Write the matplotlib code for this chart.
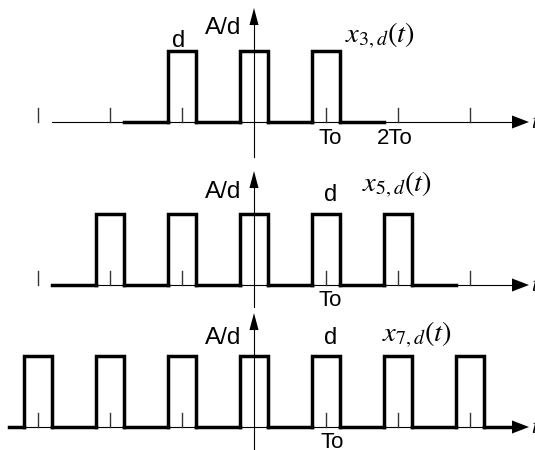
import numpy as np
import matplotlib
matplotlib.use("Agg")
import matplotlib.pyplot as plt

plt.rcParams['mathtext.fontset'] = 'stix'

# pulse trains x_{N,d}(t): t in units of To, amplitude in units of A/d
n_pulses = [3, 5, 7]
duty = 0.40                      # d / To
amp = 1.0                        # A/d
base_extent = [(-1.8, 1.8), (-2.8, 2.8), (-3.4, 3.6)]
axis_start = [-2.8, -2.8, -3.4]
tick_pos = [-3, -2, -1, 1, 2, 3]
labels = [r'$x_{\mathit{3,d}}(t)$', r'$x_{\mathit{5,d}}(t)$', r'$x_{\mathit{7,d}}(t)$']

# layout (pixels)
W, H = 535, 450
x0_px, to_px, amp_px = 254, 72, 71
base_px = [122, 285, 427]
vaxis_low = [-0.49, -0.31, -0.35]

# text placement per panel, pixel coords: A/d, d, label (left, baseline), To
txt_ad = [(223.5, 28.5), (223.5, 192), (223.5, 337.5)]
txt_d = [(179, 41.5), (331, 195), (331, 338)]
txt_lab = [(345, 43), (362, 192), (382, 342)]
txt_to = [(330, 139), (330, 300), (332, 443)]

fig = plt.figure(figsize=(W / 100, H / 100), dpi=100)
sans = 'Liberation Sans'
lw_thick = 2.5

for i, n in enumerate(n_pulses):
    ax = fig.add_axes([0, 0, 1, 1])
    ax.set_xlim(-x0_px / to_px, (W - x0_px) / to_px)
    yb = base_px[i]
    ax.set_ylim(-(H - yb) / amp_px, yb / amp_px)
    ax.axis('off')
    ax.patch.set_alpha(0)

    def tx(px):
        return (px - x0_px) / to_px

    def ty(py):
        return (yb - py) / amp_px

    # thin time axis with arrow
    tip = tx(529)
    head = 17 / to_px
    ax.plot([axis_start[i], tip - head * 0.8], [0, 0], color='black', lw=0.8)
    ax.fill([tip - head, tip, tip - head], [0.092, 0, -0.092], color='black', lw=0)

    # ticks
    for tp in tick_pos:
        ax.plot([tp, tp], [0, 0.2], color='#333333', lw=1.0)

    # vertical axis with arrow
    vtip = ty(base_px[i] - 114)
    ax.plot([0, 0], [vaxis_low[i], vtip - 0.1], color='black', lw=0.8)
    ax.fill([-0.063, 0, 0.063], [vtip - 0.24, vtip, vtip - 0.24], color='black', lw=0)

    # pulse train: thick baseline pieces between pulses, thin axis visible under pulses
    centers = np.arange(n) - (n - 1) / 2
    lefts = centers - duty / 2
    rights = centers + duty / 2
    starts = np.concatenate([[base_extent[i][0]], rights])
    ends = np.concatenate([lefts, [base_extent[i][1]]])
    for s, e in zip(starts, ends):
        ax.plot([s, e], [0, 0], color='black', lw=lw_thick, solid_capstyle='projecting')
    for l, r in zip(lefts, rights):
        ax.plot([l, l, r, r], [0, amp, amp, 0], color='black', lw=lw_thick,
                solid_joinstyle='miter', solid_capstyle='projecting')

    ax.text(tx(txt_ad[i][0]), ty(txt_ad[i][1]), 'A/d', family=sans, fontsize=17.5,
            ha='center', va='center')
    ax.text(tx(txt_d[i][0]), ty(txt_d[i][1]), 'd', family=sans, fontsize=17,
            ha='center', va='center')
    ax.text(tx(txt_lab[i][0]), ty(txt_lab[i][1]), labels[i], fontsize=20.5,
            ha='left', va='baseline')
    ax.text(tx(txt_to[i][0]), ty(txt_to[i][1]), 'To', family=sans, fontsize=16,
            ha='center', va='center')
    if i == 0:
        ax.text(tx(395), ty(139), '2To', family=sans, fontsize=16, ha='center', va='center')
    ax.text(tx(531), 0.0, r'$t$', fontsize=16, ha='left', va='center')

fig.savefig('out.png', dpi=100)
